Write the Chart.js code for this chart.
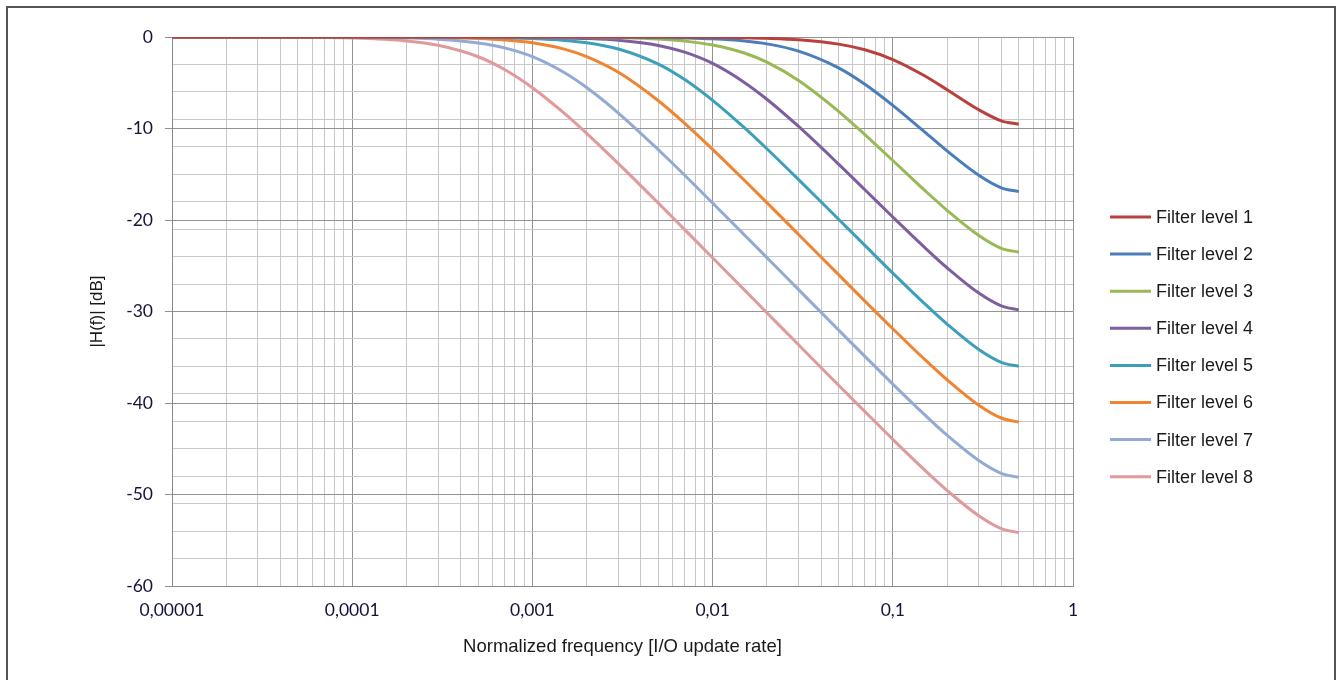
<!DOCTYPE html>
<html>
<head>
<meta charset="utf-8">
<script src="https://cdn.jsdelivr.net/npm/chart.js@4.4.1/dist/chart.umd.min.js"></script>
<style>
  html, body { margin: 0; padding: 0; background: #fff; overflow: hidden; }
  #frame { position: absolute; left: 6px; top: 6px; width: 1330px; height: 700px; border: 2px solid #555555; box-sizing: border-box; }
  canvas { position: absolute; left: 0; top: 0; }
</style>
</head>
<body>
<div id="frame"></div>
<canvas id="chart" width="1338" height="680"></canvas>
<script>
// normalized frequency sample points (shared by all series)
const freqs = [0.00001, 0.00005, 0.0001, 0.0002, 0.0003, 0.0005, 0.0007, 0.001, 0.0015, 0.002, 0.003, 0.005,
               0.007, 0.01, 0.015, 0.02, 0.03, 0.05, 0.07, 0.1, 0.15, 0.2, 0.3, 0.4, 0.5];

// |H(f)| in dB
const level1 = [0, 0, 0, 0, 0, 0, 0, 0, 0, -0.001, -0.003, -0.009, -0.017, -0.034, -0.076, -0.135, -0.30, -0.78, -1.40, -2.46, -4.23, -5.76, -7.95, -9.16, -9.54];
const level2 = [0, 0, 0, 0, 0, 0, 0, -0.002, -0.005, -0.008, -0.018, -0.051, -0.10, -0.20, -0.44, -0.75, -1.54, -3.37, -5.16, -7.47, -10.37, -12.45, -15.11, -16.48, -16.90];
const level3 = [0, 0, 0, 0, 0, -0.002, -0.005, -0.010, -0.022, -0.038, -0.085, -0.23, -0.45, -0.87, -1.75, -2.75, -4.75, -8.12, -10.67, -13.50, -16.74, -18.94, -21.69, -23.09, -23.52];
const level4 = [0, 0, 0, -0.002, -0.004, -0.010, -0.020, -0.041, -0.092, -0.16, -0.36, -0.92, -1.66, -2.89, -4.96, -6.80, -9.78, -13.89, -16.69, -19.67, -22.99, -25.22, -27.99, -29.39, -29.83];
const level5 = [0, 0, -0.002, -0.007, -0.015, -0.042, -0.082, -0.17, -0.37, -0.63, -1.31, -2.96, -4.65, -6.92, -9.91, -12.21, -15.58, -19.92, -22.78, -25.80, -29.13, -31.37, -34.15, -35.55, -35.99];
const level6 = [0, -0.002, -0.007, -0.028, -0.062, -0.17, -0.33, -0.64, -1.33, -2.14, -3.86, -6.97, -9.44, -12.28, -15.66, -18.10, -21.58, -25.97, -28.86, -31.88, -35.22, -37.46, -40.24, -41.64, -42.08];
const level7 = [0, -0.007, -0.028, -0.11, -0.24, -0.65, -1.19, -2.15, -3.88, -5.52, -8.31, -12.32, -15.11, -18.14, -21.62, -24.11, -27.61, -32.02, -34.91, -37.93, -41.27, -43.52, -46.29, -47.69, -48.13];
const level8 = [-0.001, -0.028, -0.11, -0.43, -0.91, -2.16, -3.55, -5.54, -8.32, -10.53, -13.84, -18.16, -21.05, -24.13, -27.64, -30.13, -33.64, -38.06, -40.94, -43.97, -47.31, -49.55, -52.33, -53.73, -54.17];

const seriesNames = ['Filter level 1', 'Filter level 2', 'Filter level 3', 'Filter level 4',
                     'Filter level 5', 'Filter level 6', 'Filter level 7', 'Filter level 8'];
const seriesColors = ['#b9413d', '#4a7ebb', '#98b954', '#7d5fa0', '#3da0ba', '#ef8432', '#92aad4', '#e09a99'];

const decadeValues = [0.00001, 0.0001, 0.001, 0.01, 0.1, 1];
const decadeLabels = ['0,00001', '0,0001', '0,001', '0,01', '0,1', '1'];

const yMajorValues = [0, -10, -20, -30, -40, -50, -60];
const yMajorLabels = ['0', '-10', '-20', '-30', '-40', '-50', '-60'];

const allLevels = [level1, level2, level3, level4, level5, level6, level7, level8];

const TICK_FONT = { family: 'Lato, "Open Sans", sans-serif', size: 17.5 };
const TICK_COLOR = '#14143a';
const MAJOR_GRID = '#939393';
const MINOR_GRID = '#c8c8c8';

// legend drawn at the right, one row per series
const sideLegend = {
    id: 'sideLegend',
    afterDraw(chart) {
        const ctx = chart.ctx;
        ctx.save();
        ctx.font = '18px "Liberation Sans", Arial, sans-serif';
        ctx.textBaseline = 'middle';
        ctx.fillStyle = '#1a1a1a';
        ctx.lineWidth = 3;
        chart.data.datasets.forEach((ds, i) => {
            const y = 217 + i * 37.1;
            ctx.strokeStyle = ds.borderColor;
            ctx.beginPath();
            ctx.moveTo(1110, y);
            ctx.lineTo(1151, y);
            ctx.stroke();
            ctx.fillText(ds.label, 1156, y + 1);
        });
        ctx.restore();
    }
};

const datasets = allLevels.map((vals, i) => ({
    label: seriesNames[i],
    data: freqs.map((f, j) => ({ x: f, y: vals[j] })),
    borderColor: seriesColors[i],
    backgroundColor: seriesColors[i],
    borderWidth: 3,
    pointRadius: 0,
    cubicInterpolationMode: 'monotone',
    fill: false
}));

new Chart(document.getElementById('chart'), {
    type: 'line',
    data: { datasets },
    plugins: [sideLegend],
    options: {
        responsive: false,
        animation: false,
        layout: { padding: { top: 37, right: 265, left: 0, bottom: 0 } },
        plugins: {
            legend: { display: false },
            tooltip: { enabled: false }
        },
        scales: {
            x: {
                type: 'logarithmic',
                min: 0.00001,
                max: 1,
                afterBuildTicks: scale => {
                    const ticks = [];
                    decadeValues.forEach((d, i) => {
                        const n = i < decadeValues.length - 1 ? 9 : 1;
                        for (let m = 1; m <= n; m++) ticks.push({ value: d * m, major: m === 1 });
                    });
                    scale.ticks = ticks;
                },
                afterFit: scale => { scale.height = 94; },
                ticks: {
                    autoSkip: false,
                    maxRotation: 0,
                    padding: 14,
                    font: TICK_FONT,
                    color: TICK_COLOR,
                    callback: (value) => {
                        const k = decadeValues.findIndex(d => Math.abs(d - value) / d < 1e-6);
                        return k >= 0 ? decadeLabels[k] : '';
                    }
                },
                grid: {
                    drawTicks: false,
                    color: c => (c.tick && c.tick.major) ? MAJOR_GRID : MINOR_GRID,
                    lineWidth: 1
                },
                border: { color: '#888888', width: 1 },
                title: {
                    display: true,
                    text: 'Normalized frequency [I/O update rate]',
                    font: { family: '"Liberation Sans", Arial, sans-serif', size: 18.5 },
                    color: '#1a1a1a',
                    padding: { top: 0, bottom: 22 }
                }
            },
            y: {
                min: -60,
                max: 0,
                afterBuildTicks: scale => {
                    const vals = new Set(yMajorValues);
                    for (let v = 0; v >= -60; v -= 3) vals.add(v);
                    scale.ticks = [...vals].sort((a, b) => a - b).map(v => ({ value: v }));
                },
                afterFit: scale => { scale.width = 172; },
                ticks: {
                    autoSkip: false,
                    padding: 12,
                    font: TICK_FONT,
                    color: TICK_COLOR,
                    callback: (value) => {
                        const k = yMajorValues.indexOf(value);
                        return k >= 0 ? yMajorLabels[k] : '';
                    }
                },
                grid: {
                    tickLength: 7,
                    color: c => (c.tick && c.tick.value % 10 === 0) ? MAJOR_GRID : MINOR_GRID,
                    tickColor: c => (c.tick && c.tick.value % 10 === 0) ? MAJOR_GRID : 'rgba(0,0,0,0)',
                    lineWidth: 1
                },
                border: { color: '#888888', width: 1 },
                title: {
                    display: true,
                    text: '|H(f)| [dB]',
                    font: { family: '"Liberation Sans", Arial, sans-serif', size: 17 },
                    color: '#1a1a1a',
                    padding: { top: 87, bottom: 0 }
                }
            }
        }
    }
});
</script>
</body>
</html>
